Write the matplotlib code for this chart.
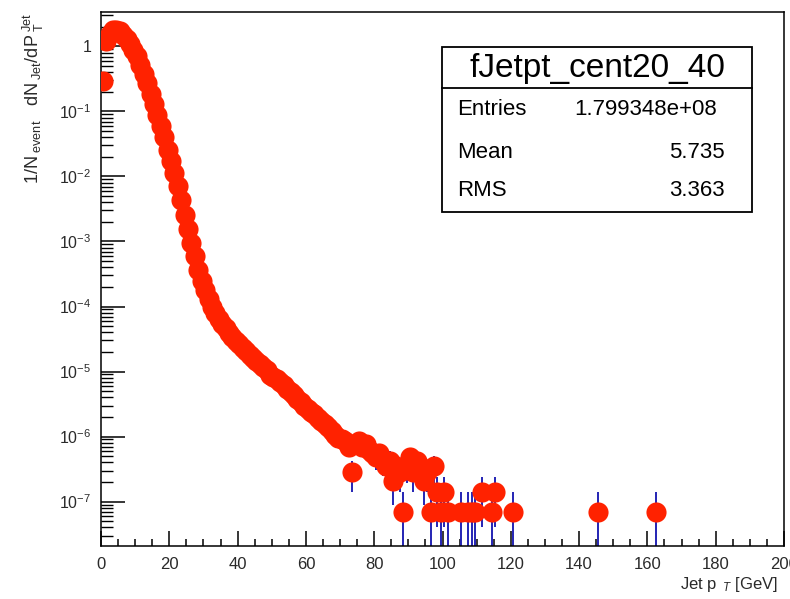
import numpy as np
import matplotlib.pyplot as plt
from matplotlib.patches import Rectangle
from matplotlib.lines import Line2D
from matplotlib.ticker import FixedLocator, FuncFormatter, LogLocator, MultipleLocator, NullFormatter

plt.rcParams['font.family'] = ['Liberation Sans', 'DejaVu Sans']
plt.rcParams['mathtext.fontset'] = 'custom'
plt.rcParams['mathtext.rm'] = 'Liberation Sans'
plt.rcParams['mathtext.it'] = 'Liberation Sans:italic'
plt.rcParams['mathtext.bf'] = 'Liberation Sans:bold'

# jet pT spectrum, 1 GeV bins, normalised per event
bin_width = 1.0
dense_pt = np.arange(0.5, 70.0, bin_width)
dense_val = [
    2.9e-1, 1.20, 1.58, 1.78, 1.82, 1.70, 1.51, 1.29, 1.10, 0.89,
    0.72, 0.52, 0.38, 0.27, 0.186, 0.129, 8.7e-2, 5.9e-2, 4.0e-2, 2.6e-2,
    1.74e-2, 1.12e-2, 7.1e-3, 4.4e-3, 2.6e-3, 1.58e-3, 9.5e-4, 5.9e-4, 3.7e-4, 2.5e-4,
    1.78e-4, 1.32e-4, 1.0e-4, 7.9e-5, 6.5e-5, 5.4e-5, 4.6e-5, 3.9e-5, 3.4e-5, 2.95e-5,
    2.63e-5, 2.34e-5, 2.09e-5, 1.82e-5, 1.62e-5, 1.45e-5, 1.29e-5, 1.17e-5, 1.05e-5, 8.9e-6,
    8.3e-6, 7.6e-6, 6.8e-6, 6.2e-6, 5.4e-6, 4.8e-6, 4.4e-6, 3.8e-6, 3.4e-6, 3.0e-6,
    2.63e-6, 2.4e-6, 2.19e-6, 1.9e-6, 1.74e-6, 1.58e-6, 1.38e-6, 1.2e-6, 1.07e-6, 9.5e-7,
]

# high-pT tail, raw jet counts in the non-empty bins
entry_weight = 7.0e-8
tail_pt = [
    70.5, 71.5, 72.5, 73.5, 74.5, 75.5, 76.5, 77.5, 78.5, 79.5,
    80.5, 81.5, 82.5, 83.5, 84.5, 85.5, 86.5, 87.5, 88.5, 89.5,
    90.5, 91.5, 92.5, 93.5, 94.5, 95.5, 96.5, 97.5, 98.5, 99.5,
    100.5, 101.5, 105.5, 107.5, 108.5, 109.5, 111.5, 114.5, 115.5, 120.5,
    145.5, 162.5,
]
tail_counts = [
    13, 12, 10, 4, 11, 12, 10, 11, 9, 8,
    7, 8, 6, 5, 6, 3, 5, 4, 1, 5,
    7, 4, 6, 5, 3, 4, 1, 5, 2, 1,
    2, 1, 1, 1, 1, 1, 2, 1, 2, 1,
    1, 1,
]

n_entries = "1.799348e+08"
mean_pt = "5.735"
rms_pt = "3.363"

pt = np.concatenate([dense_pt, tail_pt])
val = np.concatenate([dense_val, np.array(tail_counts) * entry_weight])
err = np.sqrt(val * entry_weight)

W, H = 790, 599
fig = plt.figure(figsize=(W / 100, H / 100), dpi=100)
ax = fig.add_axes([101 / W, 1 - 546 / H, (784 - 101) / W, (546 - 12) / H])

ax.errorbar(pt, val, yerr=err, fmt='none', ecolor='#2424b4', elinewidth=1.4, zorder=2)
ax.plot(pt, val, 'o', color='#ff2200', ms=14.5, mec='none', zorder=3)

ax.set_yscale('log')
ax.set_xlim(0, 200)
ax.set_ylim(2.07e-8, 3.39)

ax.xaxis.set_major_locator(MultipleLocator(20))
ax.xaxis.set_minor_locator(MultipleLocator(5))
ax.yaxis.set_major_locator(FixedLocator([10.0 ** k for k in range(-7, 1)]))
ax.yaxis.set_minor_locator(LogLocator(base=10, subs=np.arange(2, 10)))
ax.yaxis.set_minor_formatter(NullFormatter())
ax.yaxis.set_major_formatter(FuncFormatter(
    lambda v, _: '1' if abs(v - 1) < 1e-9 else r'$\mathdefault{10^{%d}}$' % round(np.log10(v))))

ax.tick_params(axis='x', which='major', direction='in', length=11, width=1.1,
               labelsize=12, pad=8, labelcolor='#2a2a2a')
ax.tick_params(axis='x', which='minor', direction='in', length=5, width=1.1)
ax.tick_params(axis='y', which='major', direction='in', length=17, width=1.1,
               labelsize=11.5, pad=7, labelcolor='#2a2a2a')
ax.tick_params(axis='y', which='minor', direction='in', length=8.5, width=1.0)
for s in ax.spines.values():
    s.set_linewidth(1.1)

fig.text(33 / W, 1 - 12 / H,
         r'$\mathdefault{1/N_{\ event}\ \ \ dN_{\ Jet}/dP_{\ T}^{\ Jet}}$',
         rotation=90, ha='center', va='top', fontsize=13, color='#2a2a2a')
fig.text(778 / W, 1 - 584 / H, r'Jet p$_{\ \ T}$ [GeV]', ha='right', va='center',
         fontsize=12, color='#2a2a2a')

# statistics box
bx0, bx1, by0, by1 = 442, 752, 47, 212
fig.add_artist(Rectangle((bx0 / W, 1 - by1 / H), (bx1 - bx0) / W, (by1 - by0) / H,
                         transform=fig.transFigure, facecolor='white',
                         edgecolor='black', lw=1.3, zorder=5))
fig.add_artist(Line2D([bx0 / W, bx1 / W], [1 - 88 / H, 1 - 88 / H],
                      transform=fig.transFigure, color='black', lw=1.3, zorder=6))
fig.text(597 / W, 1 - 68 / H, 'fJetpt_cent20_40', ha='center', va='center',
         fontsize=24, zorder=7)
rows = [('Entries', n_entries, 110, 717), ('Mean', mean_pt, 153, 725), ('RMS', rms_pt, 190, 725)]
for name, value, yy, xr in rows:
    fig.text(457 / W, 1 - yy / H, name, ha='left', va='center', fontsize=16, zorder=7)
    fig.text(xr / W, 1 - yy / H, value, ha='right', va='center', fontsize=16, zorder=7)

fig.savefig('out.png', dpi=100)
